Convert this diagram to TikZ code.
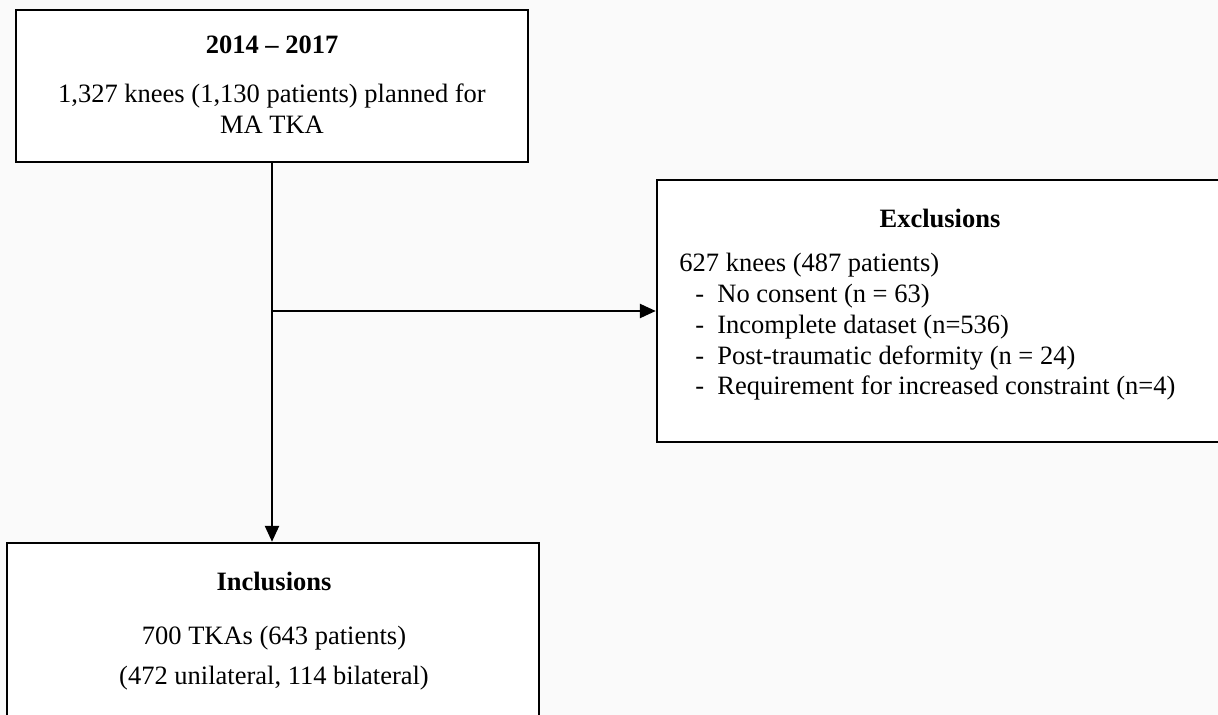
\documentclass[tikz,border=0pt]{standalone}
\usepackage{fontspec}
\setmainfont{Liberation Serif}
\usetikzlibrary{arrows.meta}

\begin{document}
\begin{tikzpicture}[x=0.5pt,y=-0.5pt,
		box/.style={draw=black,fill=white,line width=1.2pt,inner sep=0pt},
		flow/.style={line width=1.2pt,-{Triangle[length=8pt,width=7pt]}},
		txt/.style={font=\fontsize{13.25}{15.5}\selectfont,inner sep=0pt}]
				\useasboundingbox (0,0) rectangle (1218,715);
				\fill[white!98!black] (0,0) rectangle (1218,715);
				\clip (0,0) rectangle (1218,715);
				\node[box,minimum width=256pt,minimum height=76pt] (period) at (272,86) {};
				\node[box,minimum width=296.5pt,minimum height=131pt] (excl) at (953.5,311) {};
				\node[box,minimum width=266pt,minimum height=118.5pt] (incl) at (273,661.5) {};
				\coordinate (split) at (period.south |- excl.west);
				\draw[flow] (period.south) -- (period.south |- incl.north);
				\draw[flow] (split) -- (excl.west);
				\node[txt] (periodtitle) at (272,45) {\bfseries 2014 – 2017};
				\node[txt,align=center] (periodtext) at (272,108.5) {1,327 knees (1,130 patients) planned for\\MA TKA};
				\node[txt] (excltitle) at (940,218) {\bfseries Exclusions};
				\node[txt,align=left,anchor=west,font=\fontsize{13.25}{15.4}\selectfont] (excltext) at (679,327) {627 knees (487 patients)\\
					\makebox[19pt][l]{\hspace{8pt}-}No consent (n = 63)\\
					\makebox[19pt][l]{\hspace{8pt}-}Incomplete dataset (n=536)\\
					\makebox[19pt][l]{\hspace{8pt}-}Post-traumatic deformity (n = 24)\\
					\makebox[19pt][l]{\hspace{8pt}-}Requirement for increased constraint (n=4)};
				\node[txt] (incltitle) at (274,581) {\bfseries Inclusions};
				\node[txt,align=center,font=\fontsize{13.25}{20}\selectfont] (incltext) at (274,658.5) {700 TKAs (643 patients)\\(472 unilateral, 114 bilateral)};
			\end{tikzpicture}
\end{document}
